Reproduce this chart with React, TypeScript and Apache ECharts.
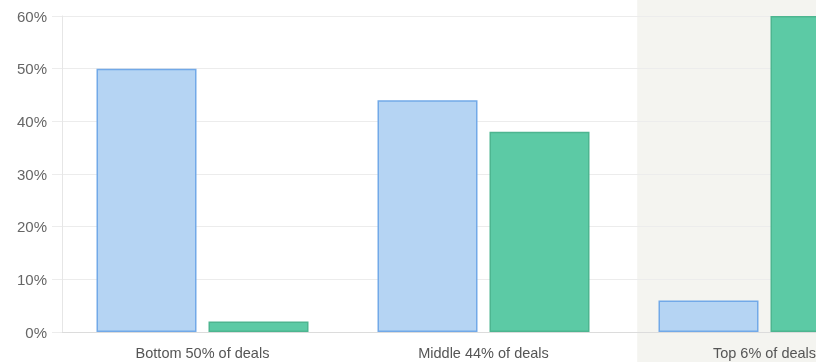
import React, { useEffect, useRef } from "react";
import * as echarts from "echarts";

const categories = ["Bottom 50% of deals", "Middle 44% of deals", "Top 6% of deals"];
const shareOfDeals = [50, 44, 6];
const shareOfValue = [2, 38, 60];
const yTicks = [0, 10, 20, 30, 40, 50, 60];
const highlighted = "Top 6% of deals";

export default function App() {
  const ref = useRef<HTMLDivElement>(null);
  useEffect(() => {
    if (!ref.current) return;
    const chart = echarts.init(ref.current, null, { renderer: "svg" });
    chart.setOption({
      animation: false,
      grid: {
        left: 62,
        top: 16,
        bottom: 30,
        width: 843,
        containLabel: false,
        outerBoundsMode: "none",
      },
      xAxis: {
        type: "category",
        data: categories,
        axisLine: { lineStyle: { color: "#dcdcdc", width: 1 } },
        axisTick: { show: false },
        axisLabel: {
          color: "#555",
          fontSize: 14.5,
          fontFamily: "Liberation Sans, Arial, sans-serif",
          margin: 13,
          hideOverlap: false,
        },
      },
      yAxis: {
        type: "value",
        min: yTicks[0],
        max: yTicks[yTicks.length - 1],
        interval: 10,
        axisLine: { show: true, lineStyle: { color: "#e6e6e6" } },
        axisTick: { show: true, length: 10, lineStyle: { color: "#ececec" } },
        splitLine: { lineStyle: { color: "#ececec" } },
        axisLabel: {
          color: "#666",
          fontSize: 15,
          fontFamily: "Liberation Sans, Arial, sans-serif",
          margin: 15,
          formatter: "{value}%",
        },
      },
      series: [
        {
          name: "Share of deals",
          type: "bar",
          data: shareOfDeals,
          barWidth: 100,
          barGap: "12%",
          itemStyle: { color: "#b5d4f3", borderColor: "#72a9e8", borderWidth: 1.5 },
        },
        {
          name: "Share of value",
          type: "bar",
          data: shareOfValue,
          barWidth: 100,
          itemStyle: { color: "#5ccaa5", borderColor: "#4db590", borderWidth: 1.5 },
        },
      ],
    });
    const idx = categories.indexOf(highlighted);
    const c0 = chart.convertToPixel({ xAxisIndex: 0 }, categories[0]) as number;
    const c1 = chart.convertToPixel({ xAxisIndex: 0 }, categories[1]) as number;
    const band = c1 - c0;
    const cx = chart.convertToPixel({ xAxisIndex: 0 }, categories[idx]) as number;
    chart.setOption({
      graphic: [
        {
          type: "rect",
          z: -10,
          silent: true,
          shape: { x: cx - band * 0.453, y: 0, width: band, height: 362 },
          style: { fill: "#f4f4f0" },
        },
      ],
    });
    return () => chart.dispose();
  }, []);
  return (
    <div
      ref={ref}
      style={{ position: "fixed", left: 0, top: 0, width: 816, height: 362 }}
    />
  );
}
